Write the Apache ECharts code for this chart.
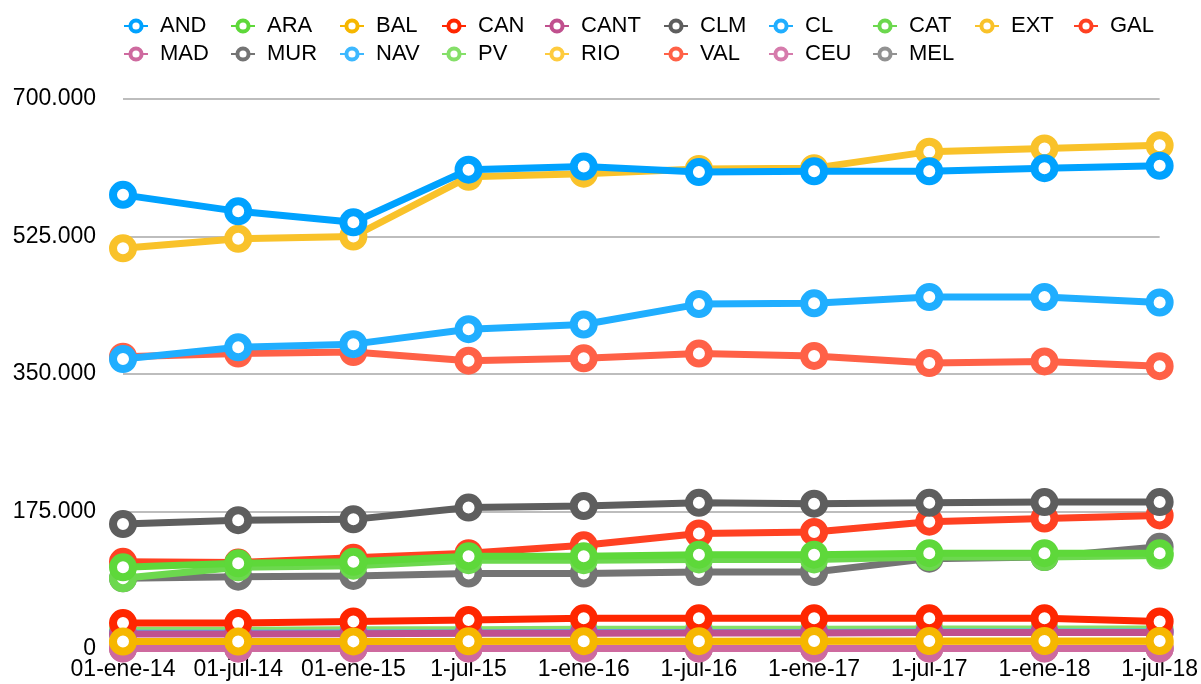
<!DOCTYPE html>
<html lang="es">
<head>
    <meta charset="UTF-8">
    <title>Comunidades</title>
    <script src="https://cdn.jsdelivr.net/npm/echarts@6/dist/echarts.min.js"></script>
    <style>
        html, body { margin: 0; padding: 0; background: #fff; }
        #chart { width: 1201px; height: 684px; }
    </style>
</head>
<body>
<div id="chart"></div>

<script>
    // fechas del eje x
    var fechas = ['01-ene-14', '01-jul-14', '01-ene-15', '1-jul-15', '1-ene-16',
                  '1-jul-16', '1-ene-17', '1-jul-17', '1-ene-18', '1-jul-18'];
    var yTicks = [0, 175000, 350000, 525000, 700000];

    var AND  = [578000, 557000, 543000, 610000, 614000, 607000, 608000, 608000, 612000, 615000];
    var ARA  = [104000, 109000, 111000, 118000, 118000, 120000, 120000, 122000, 122000, 122000];
    var BAL  = [9500, 9500, 9700, 9800, 10000, 10000, 10100, 10100, 10200, 10200];
    var CAN  = [33000, 33000, 35000, 37000, 39000, 39000, 39000, 39000, 39000, 35000];
    var CANT = [19000, 19000, 19500, 20000, 20000, 20500, 20500, 21000, 21000, 21000];
    var CLM  = [159000, 164000, 165000, 180000, 182000, 186000, 185000, 186000, 187000, 187000];
    var CL   = [369000, 384000, 388000, 407000, 413000, 439000, 440000, 448000, 448000, 441000];
    var CAT  = [90000, 104000, 106000, 113000, 113000, 114000, 114000, 117000, 117000, 119000];
    var EXT  = [510000, 522000, 525000, 601000, 605000, 611000, 612000, 633000, 637000, 641000];
    var GAL  = [111000, 110000, 116000, 122000, 132000, 147000, 149000, 162000, 166000, 170000];
    var MAD  = [500, 500, 500, 500, 500, 500, 500, 500, 500, 500];
    var MUR  = [90000, 92000, 93000, 96000, 96000, 98000, 98000, 115000, 117000, 130000];
    var NAV  = [20000, 20000, 20500, 20500, 21000, 21000, 21000, 21500, 21500, 21500];
    var PV   = [24000, 24000, 24500, 24500, 25000, 25000, 25000, 25500, 25500, 25500];
    var RIO  = [7000, 7000, 7000, 7200, 7200, 7300, 7300, 7400, 7400, 7400];
    var VAL  = [372000, 376000, 378000, 367000, 370000, 376000, 373000, 364000, 366000, 360000];
    var CEU  = [1000, 1000, 1000, 1000, 1000, 1000, 1000, 1000, 1000, 1000];
    var MEL  = [1000, 1000, 1000, 1000, 1000, 1000, 1000, 1000, 1000, 1000];

    var nombres = ['AND', 'ARA', 'BAL', 'CAN', 'CANT', 'CLM', 'CL', 'CAT', 'EXT', 'GAL',
                   'MAD', 'MUR', 'NAV', 'PV', 'RIO', 'VAL', 'CEU', 'MEL'];
    var valores = [AND, ARA, BAL, CAN, CANT, CLM, CL, CAT, EXT, GAL,
                   MAD, MUR, NAV, PV, RIO, VAL, CEU, MEL];
    var colores = ['#00a2ff', '#5ed83a', '#f6b700', '#ff2600', '#c0508e', '#5e5e5e',
                   '#20aeff', '#6cd84e', '#f9c22a', '#ff4122', '#ce6a9f', '#747474',
                   '#3db8ff', '#85df69', '#fecb3e', '#ff6147', '#d67bac', '#929292'];
    // x de cada columna de la leyenda
    var legendX = [123, 230, 339, 441, 544, 663, 768, 872, 974, 1073];

    function fmt(v) {
        return String(v).replace(/\B(?=(\d{3})+(?!\d))/g, '.');
    }

    var series = [];
    for (var i = 0; i < nombres.length; i++) {
        series.push({
            name: nombres[i],
            type: 'line',
            data: valores[i],
            z: 40 - i,
            symbol: 'circle',
            symbolSize: 20,
            color: colores[i],
            lineStyle: { width: 7, color: colores[i] },
            itemStyle: { color: '#fff', borderColor: colores[i], borderWidth: 8 },
            emphasis: { disabled: true },
            animation: false
        });
    }

    var legends = [];
    for (var c = 0; c < legendX.length; c++) {
        var d = [nombres[c]];
        if (nombres[c + 10]) d.push(nombres[c + 10]);
        legends.push({
            data: d,
            orient: 'vertical',
            left: legendX[c],
            top: 15,
            itemWidth: 24,
            itemHeight: 14,
            itemGap: 6,
            padding: 0,
            selectedMode: false,
            itemStyle: { borderWidth: 4 },
            textStyle: {
                fontFamily: 'Liberation Sans',
                fontSize: 22,
                lineHeight: 22,
                color: '#000',
                padding: [0, 0, 0, 7]
            }
        });
    }

    var myChart = echarts.init(document.getElementById('chart'));
    var option = {
        backgroundColor: '#fff',
        animation: false,
        legend: legends,
        grid: { left: 123, right: 41, top: 99, bottom: 35, containLabel: false },
        xAxis: {
            type: 'category',
            data: fechas,
            boundaryGap: false,
            axisLine: { show: false },
            axisTick: { show: false },
            axisLabel: {
                interval: 0,
                margin: 9,
                color: '#000',
                fontFamily: 'Liberation Sans',
                fontSize: 23
            }
        },
        yAxis: {
            type: 'value',
            min: yTicks[0],
            max: yTicks[yTicks.length - 1],
            interval: yTicks[1] - yTicks[0],
            axisLine: { show: false },
            axisTick: { show: false },
            splitLine: { lineStyle: { color: '#bdbdbd', width: 2 } },
            axisLabel: {
                margin: 27,
                color: '#000',
                fontFamily: 'Liberation Sans',
                fontSize: 23,
                formatter: fmt
            }
        },
        series: series
    };
    myChart.setOption(option);
</script>

</body>
</html>
